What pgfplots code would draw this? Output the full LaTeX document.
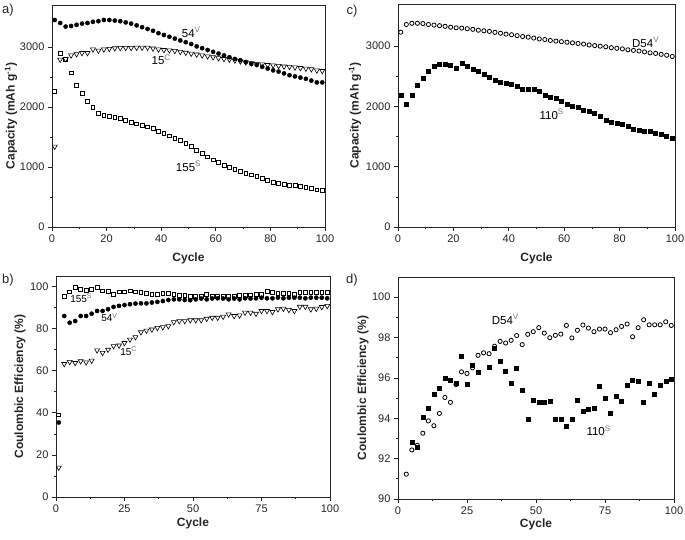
\documentclass[border=0pt]{standalone}
\usepackage{pgfplots}
\pgfplotsset{compat=1.18}
\usepackage{fontspec}
\setmainfont{Liberation Sans}

\pgfplotsset{
  panel/.style={
    scale only axis,
    xmin=0, xmax=100,
    axis line style={black!85, line width=0.8pt},
    tick align=outside,
    xtick pos=bottom, ytick pos=left,
    major tick length=4pt, minor tick length=2.2pt,
    every tick/.style={black!85, line width=0.7pt},
    minor x tick num=1, minor y tick num=1,
    tick label style={font=\fontsize{11}{13}\selectfont, black!85},
    /pgf/number format/assume math mode=true,
    /pgf/number format/1000 sep={},
    label style={font=\bfseries\fontsize{12}{14}\selectfont, black!85},
    clip=false,
  },
  fcirc/.style={only marks, mark=*, mark size=2.1pt, black},
  ocirc/.style={only marks, mark=o, mark size=2.1pt, black, mark options={line width=0.8pt}},
  otri/.style={only marks, mark=triangle, mark size=2.9pt, black, mark options={rotate=180, line width=0.6pt}},
  osq/.style={only marks, mark=square, mark size=1.9pt, black, mark options={line width=0.7pt}},
  fsq/.style={only marks, mark=square*, mark size=2.0pt, black},
}
\newcommand{\lab}[2]{{\fontsize{11.5}{13}\selectfont #1\textsuperscript{\textcolor{black!55}{#2}}}}
\newcommand{\slab}[2]{{\fontsize{10}{12}\selectfont #1\textsuperscript{\textcolor{black!55}{#2}}}}

\begin{document}
\begin{tikzpicture}[x=1pt,y=1pt]
\useasboundingbox (0,0) rectangle (685,540);

% ---------------- panel a ----------------
\begin{axis}[panel, at={(52pt,313pt)}, anchor=south west,
  width=273pt, height=222pt,
  ymin=0, ymax=3700,
  xtick={0,20,40,60,80,100},
  ytick={0,1000,2000,3000},
  xlabel={Cycle}, ylabel={Capacity (mAh g\textsuperscript{-1})},
  xlabel style={at={(axis description cs:0.5,-0.14)}, anchor=center},
  ylabel style={at={(axis description cs:-0.150,0.5)}, anchor=center},
]
\addplot[osq] coordinates {
(1,2260)(3,2890)(5,2790)(7,2570)(9,2360)(11,2230)(13,2090)(15,1990)(17,1890)(19,1860)
(21,1850)(23,1830)(25,1810)(27,1780)(29,1750)(31,1720)(33,1700)(35,1670)(37,1640)(39,1600)
(41,1560)(43,1520)(45,1480)(47,1440)(49,1400)(51,1340)(53,1280)(55,1230)(57,1170)(59,1120)
(61,1080)(63,1030)(65,990)(67,960)(69,930)(71,900)(73,870)(75,840)(77,810)(79,780)
(81,750)(83,730)(85,710)(87,700)(89,690)(91,680)(93,660)(95,640)(97,620)(99,610)};
\addplot[otri] coordinates {
(1,1340)(3,2790)(5,2800)(7,2860)(9,2880)(11,2900)(13,2900)(15,2960)(17,2940)(19,2960)
(21,2970)(23,2980)(25,2985)(27,2985)(29,2985)(31,2990)(33,2990)(35,2990)(37,2975)(39,2960)
(41,2950)(43,2945)(45,2935)(47,2920)(49,2905)(51,2890)(53,2875)(55,2860)(57,2845)(59,2830)
(61,2815)(63,2800)(65,2790)(67,2775)(69,2760)(71,2745)(73,2730)(75,2720)(77,2710)(79,2700)
(81,2695)(83,2685)(85,2675)(87,2670)(89,2660)(91,2650)(93,2640)(95,2630)(97,2610)(99,2600)};
\addplot[fcirc] coordinates {
(1,3450)(3,3400)(5,3340)(7,3350)(9,3370)(11,3390)(13,3400)(15,3420)(17,3430)(19,3450)
(21,3450)(23,3440)(25,3430)(27,3410)(29,3390)(31,3360)(33,3330)(35,3300)(37,3270)(39,3230)
(41,3200)(43,3170)(45,3140)(47,3110)(49,3080)(51,3050)(53,3010)(55,2980)(57,2950)(59,2920)
(61,2890)(63,2860)(65,2830)(67,2800)(69,2780)(71,2750)(73,2720)(75,2700)(77,2670)(79,2640)
(81,2610)(83,2590)(85,2560)(87,2530)(89,2510)(91,2490)(93,2470)(95,2440)(97,2410)(99,2410)};
\node at (axis cs:51,3245) {\lab{54}{V}};
\node at (axis cs:40,2790) {\lab{15}{C}};
\node at (axis cs:50,1015) {\lab{155}{S}};
\end{axis}

% ---------------- panel b ----------------
\begin{axis}[panel, at={(56pt,43pt)}, anchor=south west,
  width=274pt, height=221pt,
  ymin=0, ymax=105,
  xtick={0,25,50,75,100},
  ytick={0,20,40,60,80,100},
  xlabel={Cycle}, ylabel={Coulombic Efficiency (\%)},
  xlabel style={at={(axis description cs:0.5,-0.12)}, anchor=center},
  ylabel style={at={(axis description cs:-0.131,0.5)}, anchor=center},
]
\addplot[osq] coordinates {
(1,39)(3,95.2)(5,97.5)(7,99.5)(9,98.7)(11,98.2)(13,98.7)(15,99.5)(17,97.9)(19,97.6)
(21,96.3)(23,97.5)(25,97.5)(27,97.9)(29,97.5)(31,97.2)(33,96.9)(35,96.3)(37,96.3)(39,96.9)
(41,96.7)(43,96.3)(45,95.9)(47,95.9)(49,95.5)(51,95.5)(53,95.2)(55,96.3)(57,95.5)(59,95.2)
(61,95.5)(63,95.5)(65,95.5)(67,95.9)(69,95.9)(71,96.0)(73,96.3)(75,96.3)(77,97.6)(79,97.1)
(81,96.7)(83,96.7)(85,96.7)(87,96.3)(89,97.1)(91,97.1)(93,97.1)(95,97.1)(97,97.1)(99,97.4)};
\addplot[otri] coordinates {
(1,14)(3,63.2)(5,64.2)(7,63.7)(9,64.5)(11,64)(13,64.8)(15,69.7)(17,68.5)(19,70)
(21,71.7)(23,72)(25,73.2)(27,74.8)(29,76)(31,78.3)(33,79.1)(35,79.6)(37,80.4)(39,80.7)
(41,81.2)(43,83.1)(45,83.6)(47,83.6)(49,84)(51,84)(53,84)(55,84.7)(57,85.2)(59,85.2)
(61,85.7)(63,86.8)(65,86)(67,86.3)(69,87.6)(71,87.6)(73,87.1)(75,88.4)(77,88.4)(79,87.9)
(81,89.2)(83,89.5)(85,88.9)(87,88.4)(89,90.4)(91,90.4)(93,89.2)(95,89.5)(97,90.3)(99,90.8)};
\addplot[fcirc] coordinates {
(1,35.4)(3,86)(5,82.8)(7,83.6)(9,86)(11,86)(13,87.1)(15,88.4)(17,88.4)(19,89.2)
(21,90.3)(23,90.8)(25,91.2)(27,91.6)(29,91.9)(31,92)(33,92)(35,92.4)(37,92.7)(39,93.1)
(41,93.6)(43,93.9)(45,93.9)(47,93.6)(49,93.5)(51,93.9)(53,94.3)(55,93.9)(57,94.3)(59,94.4)
(61,94.3)(63,93.9)(65,94.3)(67,93.9)(69,94.4)(71,94.3)(73,94.4)(75,94.7)(77,94.4)(79,94.4)
(81,94.7)(83,94.4)(85,94.7)(87,94.7)(89,94.7)(91,94.4)(93,94.7)(95,94.7)(97,94.7)(99,94.4)};
\node at (axis cs:9.2,94.6) {\slab{155}{S}};
\node at (axis cs:19.5,85.2) {\slab{54}{V}};
\node at (axis cs:26.5,69.2) {\slab{15}{C}};
\end{axis}

% ---------------- panel c ----------------
\begin{axis}[panel, at={(398pt,313pt)}, anchor=south west,
  width=277pt, height=223pt,
  ymin=0, ymax=3700,
  xtick={0,20,40,60,80,100},
  ytick={0,1000,2000,3000},
  xlabel={Cycle}, ylabel={Capacity (mAh g\textsuperscript{-1})},
  xlabel style={at={(axis description cs:0.5,-0.139)}, anchor=center},
  ylabel style={at={(axis description cs:-0.155,0.5)}, anchor=center},
]
\addplot[ocirc] coordinates {
(1,3232)(3,3360)(5,3380)(7,3380)(9,3375)(11,3360)(13,3350)(15,3340)(17,3330)(19,3315)
(21,3305)(23,3300)(25,3290)(27,3280)(29,3265)(31,3255)(33,3245)(35,3230)(37,3215)(39,3200)
(41,3190)(43,3175)(45,3160)(47,3150)(49,3135)(51,3120)(53,3110)(55,3095)(57,3085)(59,3075)
(61,3066)(63,3055)(65,3045)(67,3035)(69,3020)(71,3010)(73,3000)(75,2990)(77,2975)(79,2965)
(81,2955)(83,2940)(85,2930)(87,2920)(89,2905)(91,2890)(93,2880)(95,2865)(97,2850)(99,2830)};
\addplot[fsq] coordinates {
(1,2180)(3,2030)(5,2180)(7,2360)(9,2470)(11,2580)(13,2660)(15,2700)(17,2700)(19,2680)
(21,2640)(23,2720)(25,2660)(27,2620)(29,2580)(31,2540)(33,2490)(35,2440)(37,2400)(39,2390)
(41,2375)(43,2330)(45,2290)(47,2280)(49,2280)(51,2250)(53,2190)(55,2150)(57,2130)(59,2090)
(61,2040)(63,2000)(65,1980)(67,1945)(69,1920)(71,1880)(73,1840)(75,1770)(77,1740)(79,1730)
(81,1700)(83,1670)(85,1630)(87,1600)(89,1590)(91,1585)(93,1560)(95,1535)(97,1500)(99,1475)};
\node at (axis cs:89.4,3063) {\lab{D54}{V}};
\node at (axis cs:55.5,1869) {\lab{110}{S}};
\end{axis}

% ---------------- panel d ----------------
\begin{axis}[panel, at={(398pt,41pt)}, anchor=south west,
  width=276pt, height=222pt,
  ymin=90, ymax=101,
  xtick={0,25,50,75,100},
  ytick={90,92,94,96,98,100},
  xlabel={Cycle}, ylabel={Coulombic Efficiency (\%)},
  xlabel style={at={(axis description cs:0.5,-0.113)}, anchor=center},
  ylabel style={at={(axis description cs:-0.127,0.5)}, anchor=center},
]
\addplot[ocirc] coordinates {
(3,91.23)(5,92.43)(7,92.66)(9,93.26)(11,93.87)(13,93.63)(15,94.24)(17,95.03)(19,94.79)
(21,95.67)(23,96.3)(25,96.22)(27,96.5)(29,97.12)(31,97.24)(33,97.2)(35,97.57)(37,97.81)(39,97.73)
(41,97.86)(43,98.1)(45,97.65)(47,98.16)(49,98.29)(51,98.49)(53,98.22)(55,97.99)(57,98.11)(59,98.17)
(61,98.6)(63,97.98)(65,98.36)(67,98.62)(69,98.47)(71,98.29)(73,98.42)(75,98.42)(77,98.24)(79,98.39)
(81,98.55)(83,98.67)(85,98.04)(87,98.49)(89,98.88)(91,98.63)(93,98.63)(95,98.63)(97,98.78)(99,98.6)};
\addplot[fsq] coordinates {
(5,92.83)(7,92.55)(9,94.03)(11,94.52)(13,95.2)(15,95.48)(17,96.0)(19,95.89)
(21,95.72)(23,97.1)(25,95.71)(27,96.63)(29,96.3)(33,96.53)(35,97.45)(37,96.83)(39,96.32)
(41,95.72)(43,96.46)(45,95.39)(47,93.95)(49,94.9)(51,94.82)(53,94.79)(55,94.87)(57,93.95)(59,93.93)
(61,93.6)(63,93.96)(65,94.88)(67,94.34)(69,94.47)(71,94.5)(73,95.6)(75,94.98)(77,94.26)(79,95.1)
(81,94.84)(83,95.66)(85,95.9)(87,95.82)(89,94.82)(91,95.74)(93,95.2)(95,95.64)(97,95.84)(99,95.94)};
\node at (axis cs:38.9,98.9) {\lab{D54}{V}};
\node at (axis cs:72.7,93.37) {\lab{110}{S}};
\end{axis}

% panel letters
\node[font=\fontsize{13}{15}\selectfont, black!85] at (8,530) {a)};
\node[font=\fontsize{13}{15}\selectfont, black!85] at (352,529) {c)};
\node[font=\fontsize{13}{15}\selectfont, black!85] at (8,260) {b)};
\node[font=\fontsize{13}{15}\selectfont, black!85] at (352,260) {d)};
\end{tikzpicture}
\end{document}
